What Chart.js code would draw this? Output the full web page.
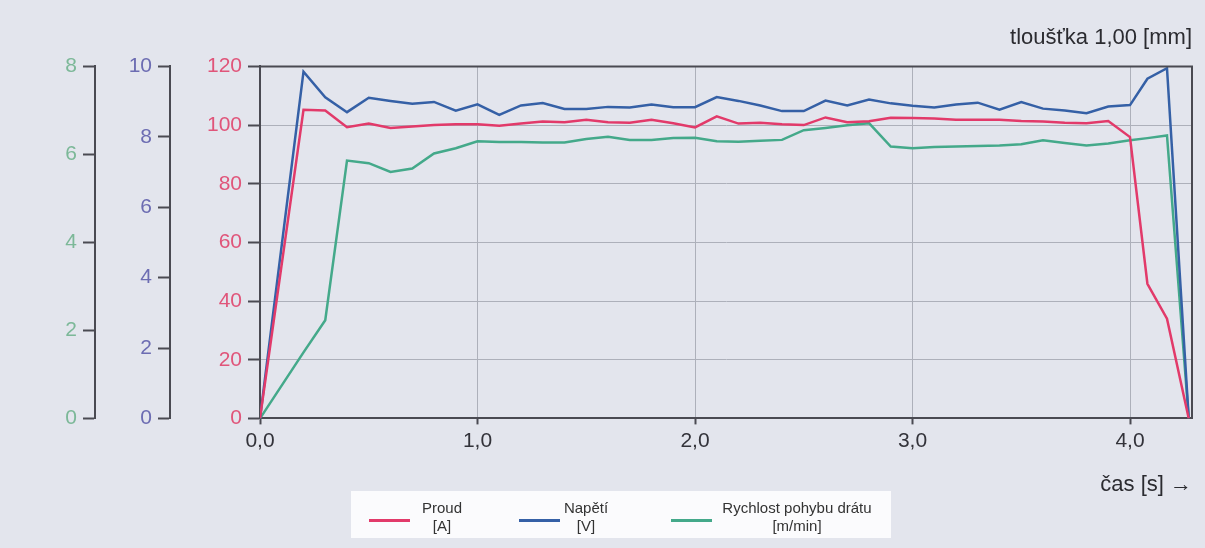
<!DOCTYPE html>
<html lang="cs">
<head>
<meta charset="utf-8">
<title>Průběh svařování - tloušťka 1,00 mm</title>
<script src="https://cdn.jsdelivr.net/npm/chart.js@4/dist/chart.umd.min.js"></script>
<style>
    html, body { margin: 0; padding: 0; background: #e3e5ed; }
    .wrap { position: relative; width: 1205px; height: 548px; }
    #weld-chart { position: absolute; left: 0; top: 0; }
    .legend-box {
        position: absolute; left: 351px; top: 491px; width: 540px; height: 47px;
        background: #fbfbfd; font-family: "Liberation Sans", Arial, sans-serif;
        font-size: 15px; color: #333;
    }
    .legend-line { position: absolute; top: 28px; width: 41px; height: 3px; }
    .legend-text { position: absolute; top: 8px; width: 220px; margin-left: -110px; text-align: center; line-height: 18px; }
</style>
</head>
<body>
<div class="wrap">
    <canvas id="weld-chart" width="1205" height="548"></canvas>
    <div class="legend-box" id="legend"></div>
</div>
<script>
/* ===== DATA ===== */

// time [s]
const times = [0, 0.2, 0.3, 0.4, 0.5, 0.6, 0.7, 0.8, 0.9, 1.0,
    1.1, 1.2, 1.3, 1.4, 1.5, 1.6, 1.7, 1.8, 1.9, 2.0,
    2.1, 2.2, 2.3, 2.4, 2.5, 2.6, 2.7, 2.8, 2.9, 3.0,
    3.1, 3.2, 3.3, 3.4, 3.5, 3.6, 3.7, 3.8, 3.9, 4.0,
    4.08, 4.17, 4.27];

// Proud [A]
const current = [0, 105.2, 105, 99.3, 100.5, 99, 99.5, 100, 100.3, 100.3,
    99.8, 100.5, 101.2, 101, 101.8, 101, 100.8, 101.8, 100.6, 99.2,
    103, 100.5, 100.8, 100.3, 100, 102.6, 101, 101.3, 102.5, 102.4,
    102.2, 101.8, 101.8, 101.8, 101.4, 101.2, 100.8, 100.6, 101.4, 95.9,
    45.9, 34, 0];

// Napětí [V]
const voltage = [0, 9.85, 9.12, 8.7, 9.11, 9.02, 8.94, 8.99, 8.74, 8.92,
    8.62, 8.89, 8.96, 8.79, 8.79, 8.85, 8.83, 8.92, 8.84, 8.84,
    9.13, 9.02, 8.89, 8.73, 8.73, 9.03, 8.89, 9.06, 8.95, 8.88,
    8.83, 8.92, 8.97, 8.77, 8.99, 8.8, 8.75, 8.67, 8.86, 8.9,
    9.65, 9.95, 0];

// Rychlost pohybu drátu [m/min]
const wireSpeed = [0, 1.5, 2.23, 5.86, 5.8, 5.6, 5.68, 6.02, 6.14, 6.3,
    6.28, 6.28, 6.27, 6.27, 6.35, 6.4, 6.33, 6.33, 6.37, 6.38,
    6.3, 6.29, 6.31, 6.33, 6.55, 6.6, 6.66, 6.71, 6.18, 6.14,
    6.17, 6.18, 6.19, 6.2, 6.23, 6.32, 6.26, 6.2, 6.25, 6.32,
    6.37, 6.43, 0];

const timeTicks = [0, 1, 2, 3, 4];
const currentTicks = [0, 20, 40, 60, 80, 100, 120];
const voltageTicks = [0, 2, 4, 6, 8, 10];
const speedTicks = [0, 2, 4, 6, 8];

const seriesNames = [['Proud', '[A]'], ['Napětí', '[V]'], ['Rychlost pohybu drátu', '[m/min]']];
const seriesColors = ['#e23a6a', '#3560a6', '#44a98a'];

/* ===== CHART ===== */

const FONT = '"Liberation Sans", "DejaVu Sans", Arial, sans-serif';
const AXIS_DARK = '#4a4a52';
const GRID = '#adb0ba';

const toPoints = (ys) => times.map((t, i) => ({ x: t, y: ys[i] }));
const fixTicks = (list) => (scale) => { scale.ticks = list.map(v => ({ value: v })); };

// frame on top/right of plot area
const framePlugin = {
    id: 'frame',
    afterDraw(chart) {
        const { ctx, chartArea: a } = chart;
        ctx.save();
        ctx.strokeStyle = AXIS_DARK;
        ctx.lineWidth = 2;
        ctx.beginPath();
        ctx.moveTo(a.left, a.top);
        ctx.lineTo(a.right, a.top);
        ctx.lineTo(a.right, a.bottom);
        ctx.stroke();
        ctx.restore();
    }
};

function sideAxis(ticks, max, color, width, weight, onArea) {
    return {
        position: 'left',
        weight: weight,
        min: 0,
        max: max,
        afterBuildTicks: fixTicks(ticks),
        afterFit(scale) { scale.width = width; },
        border: { display: true, color: AXIS_DARK, width: 2 },
        grid: {
            drawOnChartArea: onArea,
            color: GRID,
            lineWidth: 1,
            tickColor: AXIS_DARK,
            tickLength: 12,
            tickWidth: 2
        },
        ticks: { color: color, padding: 6, font: { family: FONT, size: 21 } }
    };
}

const ctx = document.getElementById('weld-chart');
new Chart(ctx, {
    type: 'line',
    data: {
        datasets: [
            { label: 'Proud [A]', data: toPoints(current), yAxisID: 'yA', borderColor: seriesColors[0] },
            { label: 'Napětí [V]', data: toPoints(voltage), yAxisID: 'yV', borderColor: seriesColors[1] },
            { label: 'Rychlost pohybu drátu [m/min]', data: toPoints(wireSpeed), yAxisID: 'yS', borderColor: seriesColors[2] }
        ]
    },
    options: {
        responsive: false,
        animation: false,
        elements: {
            line: { borderWidth: 2.5, tension: 0 },
            point: { radius: 0 }
        },
        layout: { padding: { left: 0, right: 13, top: 25, bottom: 50 } },
        plugins: {
            legend: { display: false },
            tooltip: { enabled: false },
            title: {
                display: true,
                text: 'tloušťka 1,00 [mm]',
                align: 'end',
                color: '#2b2b30',
                font: { family: FONT, size: 22, weight: 'normal' },
                padding: { top: 0, bottom: 15 }
            }
        },
        scales: {
            x: {
                type: 'linear',
                min: 0,
                max: 4.285,
                afterBuildTicks: fixTicks(timeTicks),
                border: { display: true, color: AXIS_DARK, width: 2 },
                grid: { color: GRID, lineWidth: 1, tickColor: AXIS_DARK, tickLength: 6, tickWidth: 2 },
                ticks: {
                    color: '#33333a',
                    padding: 4,
                    font: { family: FONT, size: 21 },
                    callback: (v) => v.toFixed(1).replace('.', ',')
                },
                title: {
                    display: true,
                    text: 'čas [s] →',
                    align: 'end',
                    color: '#2b2b30',
                    font: { family: FONT, size: 22 },
                    padding: { top: 14, bottom: 0 }
                }
            },
            yA: sideAxis(currentTicks, 120, '#e0557a', 90, 0, true),
            yV: sideAxis(voltageTicks, 10, '#6c6cb2', 75, 1, false),
            yS: sideAxis(speedTicks, 8, '#7cb898', 95, 2, false)
        }
    },
    plugins: [framePlugin]
});

/* ===== LEGEND ===== */

const legendPos = [{ line: 18, text: 91 }, { line: 168, text: 235 }, { line: 320, text: 446 }];
document.getElementById('legend').innerHTML = seriesNames.map((name, i) => `
    <div class="legend-line" style="left:${legendPos[i].line}px;background:${seriesColors[i]}"></div>
    <div class="legend-text" style="left:${legendPos[i].text}px">${name[0]}<br>${name[1]}</div>
`).join('');
</script>
</body>
</html>
